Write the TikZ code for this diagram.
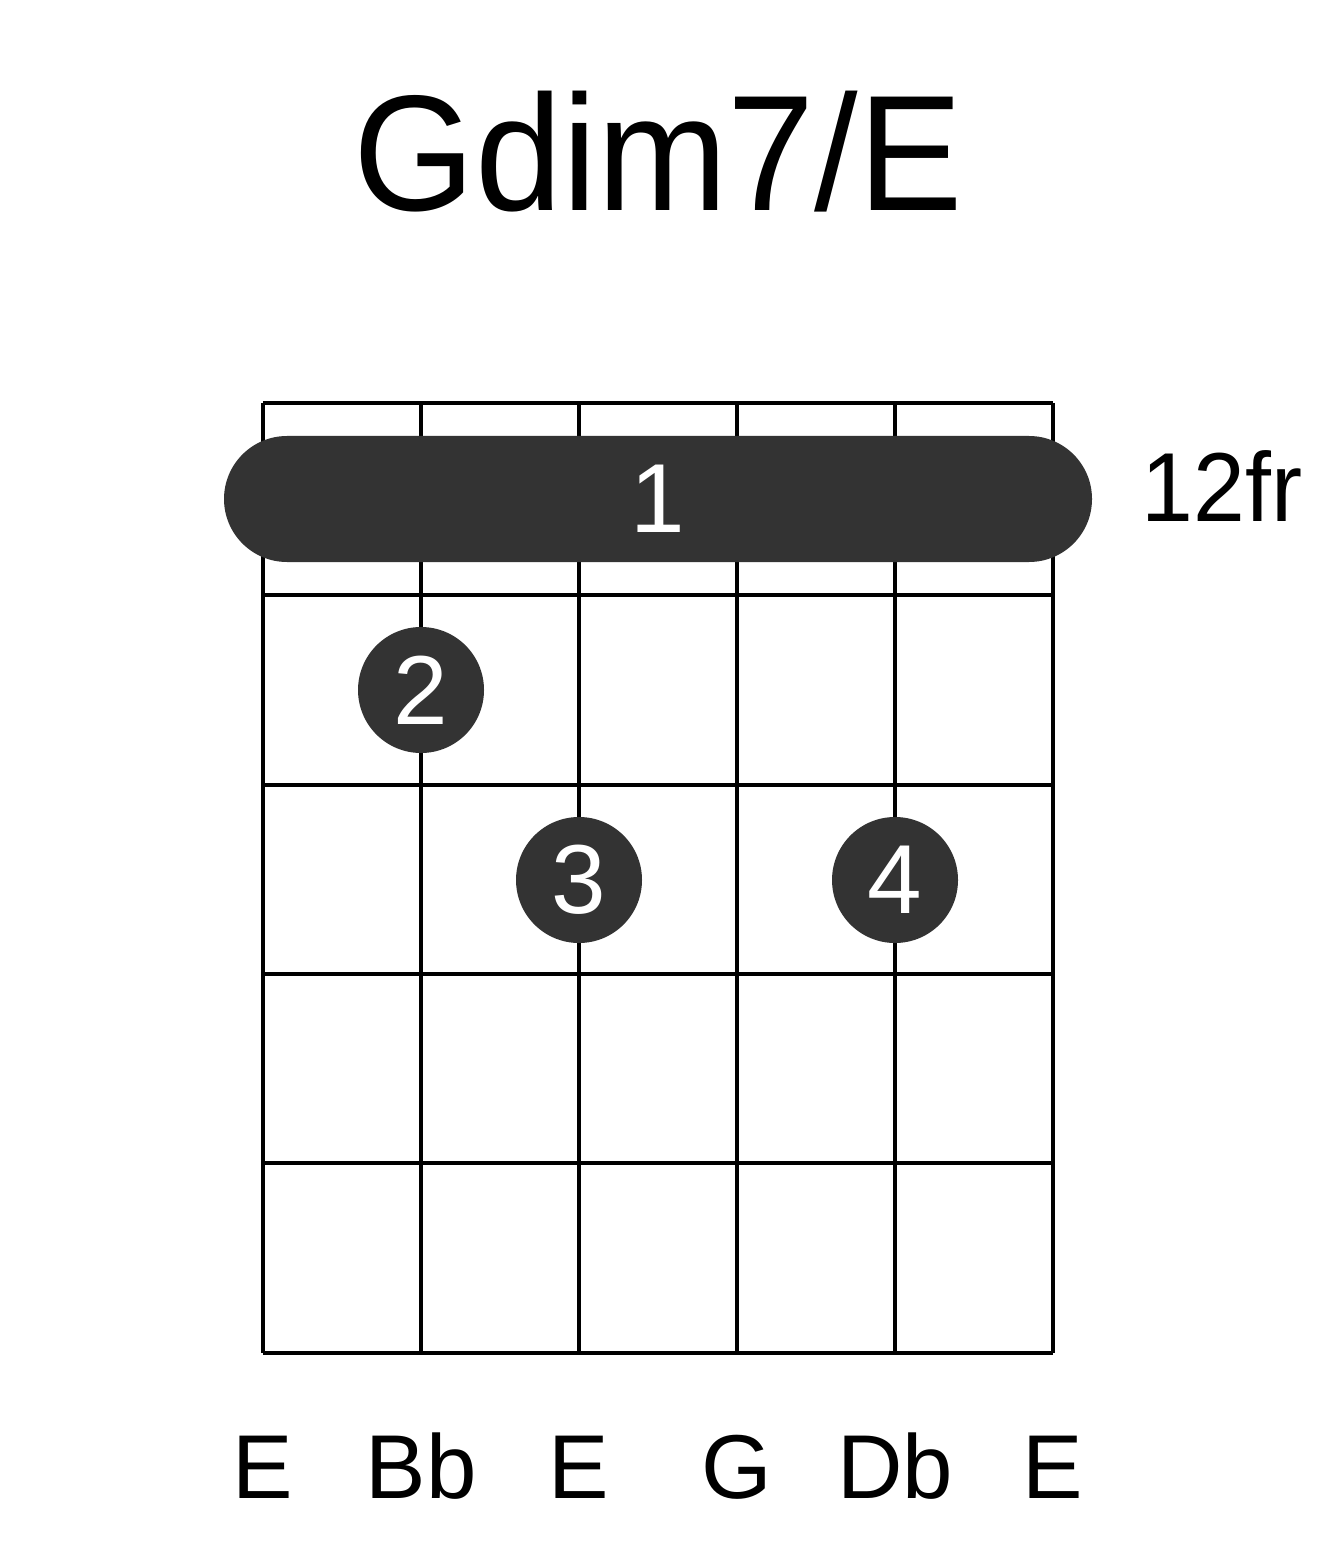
\documentclass[tikz,border=0pt]{standalone}
\usepackage{fontspec}
\setmainfont{Liberation Sans}
\usetikzlibrary{shapes.misc}

\begin{document}
\begin{tikzpicture}[
  grid/.style = {line width=0.045cm, black},
  dot/.style = {circle, fill=black!80, minimum size=1.26cm, inner sep=0pt,
    text=white, font=\fontsize{27.9}{30}\selectfont},
  barre/.style = {rounded rectangle, fill=black!80, minimum width=8.68cm,
    minimum height=1.26cm, inner sep=0pt, text=white,
    font=\fontsize{27.9}{30}\selectfont},
  note/.style = {anchor=base, font=\fontsize{25.8}{28}\selectfont}
  ]
  \useasboundingbox (0,0) rectangle (13.17,-15.51);
  \node (title) [anchor=base, xscale=0.95, font=\fontsize{46.9}{50}\selectfont] at (6.58,-2.11) {Gdim7/E};

  % strings and frets
  \foreach \x in {2.63,4.21,5.79,7.37,8.95,10.53}
    \draw [grid] (\x,-4.03) -- (\x,-13.53);
  \foreach \y in {4.03,5.95,7.85,9.74,11.63,13.53}
    \draw [grid] (2.63,-\y) -- (10.53,-\y);

  \node (bar) [barre] at (6.58,-4.99) {1};
  \node (fret) [anchor=base west, xscale=0.95, font=\fontsize{27.9}{30}\selectfont] at (11.30,-5.22) {12fr};

  \node (f2) [dot] at (4.21,-6.90) {2};
  \node (f3) [dot] at (5.79,-8.80) {3};
  \node (f4) [dot] at (8.95,-8.80) {4};

  \node (n1) [note] at (2.63,-14.98) {E};
  \node (n2) [note] at (4.21,-14.98) {Bb};
  \node (n3) [note] at (5.79,-14.98) {E};
  \node (n4) [note] at (7.37,-14.98) {G};
  \node (n5) [note] at (8.95,-14.98) {Db};
  \node (n6) [note] at (10.53,-14.98) {E};
\end{tikzpicture}
\end{document}
